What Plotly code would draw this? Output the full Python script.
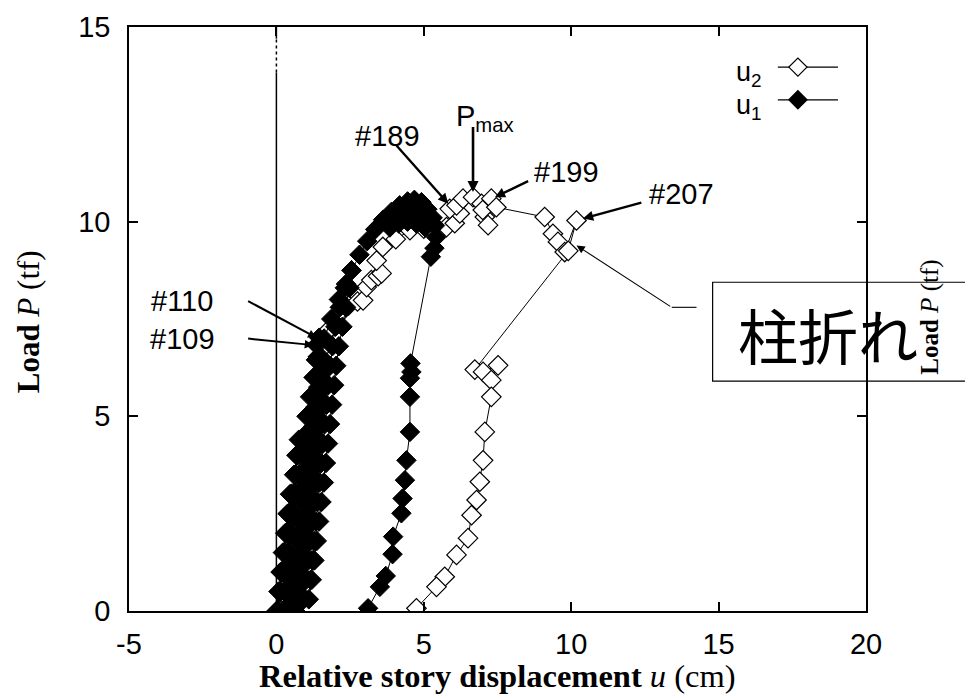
import plotly.graph_objects as go

# ---------------------------------------------------------------------------
# Load P (tf) versus relative story displacement u (cm)
# u1 : first-story drift  (filled diamonds)
# u2 : second-story drift (open diamonds)
# ---------------------------------------------------------------------------

# u1 -- small cycles, cycle to #109/#110, cycles to ~6 and ~8.7 tf,
#       final loading to the peak, drop after column failure and unloading
u1_x = (
    [0.00, 0.07, 0.14, 0.22, 0.30, 0.38, 0.46, 0.40, 0.33, 0.26, 0.19, 0.12, 0.05]
    + [0.12, 0.20, 0.28, 0.36, 0.44, 0.52, 0.60, 0.68, 0.76, 0.72, 0.66, 0.60, 0.53,
       0.46, 0.39, 0.32, 0.26, 0.20]
    + [0.28, 0.36, 0.44, 0.52, 0.60, 0.68, 0.76, 0.85, 0.94, 1.02, 1.14, 1.26, 1.34,
       1.36, 1.45, 1.44, 1.40, 1.35, 1.30, 1.24, 1.18, 1.12, 1.06, 0.99, 0.92, 0.85,
       0.78, 0.71, 0.64]
    + [0.55, 0.62, 0.70, 0.78, 0.86, 0.94, 1.02, 1.10, 1.18, 1.26, 1.34, 1.42, 1.50,
       1.62, 1.56, 1.50, 1.44, 1.38, 1.31, 1.24, 1.17, 1.10, 1.02, 0.94, 0.86]
    + [0.70, 0.77, 0.84, 0.91, 0.98, 1.05, 1.12, 1.19, 1.26, 1.33, 1.40, 1.47, 1.54,
       1.62, 1.86, 2.12, 2.36, 2.55, 2.48, 2.36, 2.24, 2.12, 2.03, 1.96, 1.89, 1.82,
       1.75, 1.68, 1.61, 1.53, 1.45, 1.37, 1.29, 1.20, 1.10]
    + [1.16, 1.22, 1.28, 1.34, 1.40, 1.46, 1.52, 1.58, 1.64, 1.70, 1.76, 1.82, 1.90,
       2.00, 2.15, 2.32, 2.55, 2.82, 3.08, 3.35, 3.62, 3.90, 4.18, 4.45, 4.68, 4.92,
       5.12, 5.30, 5.05, 4.75, 4.45, 4.15, 3.85, 4.15, 4.50, 4.85, 5.15, 5.38, 5.42,
       5.36, 5.24]
    + [4.55, 4.58, 4.53, 4.53, 4.53, 4.41, 4.36, 4.28, 4.24, 3.96, 3.94, 3.71, 3.51,
       3.11]
)
u1_p = (
    [0.00, 0.50, 1.00, 1.50, 2.00, 2.50, 3.00, 2.50, 2.00, 1.50, 1.00, 0.50, 0.00]
    + [0.50, 1.00, 1.50, 2.00, 2.50, 3.00, 3.50, 4.00, 4.40, 4.00, 3.50, 3.00, 2.50,
       2.00, 1.50, 1.00, 0.50, 0.00]
    + [0.50, 1.00, 1.50, 2.00, 2.50, 3.00, 3.50, 4.00, 4.50, 5.00, 5.50, 6.00, 6.45,
       6.83, 7.02, 6.50, 6.00, 5.50, 5.00, 4.50, 4.00, 3.50, 3.00, 2.50, 2.00, 1.50,
       1.00, 0.50, 0.00]
    + [0.25, 0.75, 1.25, 1.75, 2.25, 2.75, 3.25, 3.75, 4.25, 4.75, 5.25, 5.75, 6.10,
       5.75, 5.25, 4.75, 4.25, 3.75, 3.25, 2.75, 2.25, 1.75, 1.25, 0.75, 0.25]
    + [0.50, 1.00, 1.50, 2.00, 2.50, 3.00, 3.50, 4.00, 4.50, 5.00, 5.50, 6.00, 6.50,
       7.00, 7.50, 8.00, 8.40, 8.75, 8.30, 7.80, 7.30, 6.80, 6.30, 5.80, 5.30, 4.80,
       4.30, 3.80, 3.30, 2.80, 2.30, 1.80, 1.30, 0.80, 0.30]
    + [0.80, 1.30, 1.80, 2.30, 2.80, 3.30, 3.80, 4.30, 4.80, 5.30, 5.80, 6.30, 6.80,
       7.30, 7.80, 8.30, 8.75, 9.15, 9.50, 9.80, 10.05, 10.25, 10.42, 10.52, 10.56,
       10.50, 10.32, 10.10, 9.85, 9.95, 10.00, 9.95, 9.85, 10.15, 10.25, 10.30, 10.15,
       9.90, 9.60, 9.32, 9.10]
    + [6.36, 6.14, 5.98, 5.50, 4.60, 3.87, 3.36, 2.89, 2.51, 1.91, 1.46, 0.90, 0.62,
       0.07]
)

# u2 -- cycles inside the u1 band, final loading, peak region, column failure, drop
u2_x = (
    [0.04, 0.18, 0.34, 0.50, 0.40, 0.26, 0.12, 0.30, 0.46, 0.62, 0.70, 0.58, 0.44,
     0.30, 0.24, 0.44, 0.62, 0.80, 0.98, 1.16, 1.30, 1.41, 1.50, 1.38, 1.24, 1.10,
     0.96, 0.82, 0.70, 0.86, 1.02, 1.18, 1.34, 1.50, 1.64, 1.76]
    + [2.10, 2.45, 2.75, 2.94, 3.06, 3.22, 3.45, 3.57, 3.40, 3.61, 4.05, 4.53, 5.00,
       5.40, 5.77, 6.05, 6.22, 5.88, 6.11, 6.33, 6.67, 6.96, 7.07, 7.18, 7.00, 7.29,
       7.46, 9.10, 9.38, 9.55, 9.78, 10.18, 9.90]
    + [6.73, 7.01, 7.52, 7.29, 7.29, 7.07, 7.01, 6.90, 6.79, 6.62, 6.50, 6.11, 5.71,
       5.43, 4.75]
)
u2_p = (
    [0.00, 1.00, 2.00, 3.00, 2.00, 1.00, 0.00, 1.00, 2.00, 3.00, 4.00, 3.00, 2.00,
     1.00, 0.00, 1.00, 2.00, 3.00, 4.00, 5.00, 6.00, 6.53, 6.88, 6.00, 5.00, 4.00,
     3.00, 2.00, 1.00, 2.00, 3.00, 4.00, 5.00, 6.00, 6.80, 7.21]
    + [7.60, 7.85, 7.95, 7.98, 8.32, 8.50, 8.60, 8.67, 9.00, 9.35, 9.55, 9.78, 9.82,
       9.72, 9.86, 9.96, 10.21, 10.33, 10.42, 10.59, 10.63, 10.46, 10.12, 9.91, 10.30,
       10.59, 10.37, 10.12, 9.69, 9.48, 9.22, 10.03, 9.25]
    + [6.20, 6.14, 6.31, 5.93, 5.50, 4.60, 3.87, 3.32, 2.85, 2.46, 1.87, 1.44, 0.88,
       0.62, 0.07]
)

assert len(u1_x) == len(u1_p) and len(u2_x) == len(u2_p)

x_ticks = [-5, 0, 5, 10, 15, 20]
y_ticks = [0, 5, 10, 15]

# step-number callouts: (text, text x, text y, arrow tail x, tail y, tip x, tip y)
step_notes = [
    ("#110", -3.20, 7.95, -1.01, 7.98, 1.36, 7.02),
    ("#109", -3.20, 6.98, -1.01, 7.00, 1.25, 6.83),
    ("#189", 3.76, 12.21, 4.02, 12.00, 5.83, 10.46),
    ("#199", 9.85, 11.27, 8.59, 11.06, 7.41, 10.63),
    ("#207", 13.75, 10.70, 12.43, 10.50, 10.40, 10.08),
]
pmax_note = ("P<sub>max</sub>", 6.02, 12.66, 6.67, 12.47, 6.67, 10.76)
failure_note = "柱折れ"

SANS = "Liberation Sans, Arial, Helvetica, sans-serif"
SERIF = "Liberation Serif, Times New Roman, serif"
CJK = "Noto Sans CJK JP, sans-serif"

MARK = 15

fig = go.Figure()

fig.add_trace(go.Scatter(
    x=u2_x, y=u2_p, mode="lines+markers", name="u2",
    line=dict(color="black", width=1),
    marker=dict(symbol="diamond", size=MARK, color="white",
                line=dict(color="black", width=1.2)),
))
fig.add_trace(go.Scatter(
    x=u1_x, y=u1_p, mode="lines+markers", name="u1",
    line=dict(color="black", width=1),
    marker=dict(symbol="diamond", size=MARK, color="black",
                line=dict(color="black", width=1)),
))

# key (text on the left, sample on the right)
key_rows = [("u<sub>2</sub>", "white", 13.97), ("u<sub>1</sub>", "black", 13.13)]
for label, fill, ky in key_rows:
    fig.add_trace(go.Scatter(
        x=[17.01, 19.05], y=[ky, ky], mode="lines",
        line=dict(color="black", width=1.2), hoverinfo="skip",
    ))
    fig.add_trace(go.Scatter(
        x=[17.69], y=[ky], mode="markers", hoverinfo="skip",
        marker=dict(symbol="diamond", size=14, color=fill,
                    line=dict(color="black", width=1.2)),
    ))

annotations = []
for label, fill, ky in key_rows:
    annotations.append(dict(
        x=16.55, y=ky - 0.18, xref="x", yref="y", text=label, showarrow=False,
        xanchor="right", yanchor="middle",
        font=dict(family=SANS, size=27, color="black"),
    ))

for text, tx, ty, ax, ay, hx, hy in step_notes:
    annotations.append(dict(
        x=tx, y=ty, xref="x", yref="y", text=text, showarrow=False,
        font=dict(family=SANS, size=29, color="black"),
    ))
    thick = 2.0 if text in ("#109", "#110") else 2.4
    annotations.append(dict(
        x=hx, y=hy, ax=ax, ay=ay, xref="x", yref="y", axref="x", ayref="y",
        text="", showarrow=True, arrowhead=2, arrowsize=0.85,
        arrowwidth=thick, arrowcolor="black",
    ))

text, tx, ty, ax, ay, hx, hy = pmax_note
annotations.append(dict(
    x=tx, y=ty, xref="x", yref="y", text=text, showarrow=False,
    xanchor="left", yanchor="middle",
    font=dict(family=SANS, size=29, color="black"),
))
annotations.append(dict(
    x=hx, y=hy, ax=ax, ay=ay, xref="x", yref="y", axref="x", ayref="y",
    text="", showarrow=True, arrowhead=2, arrowsize=0.85,
    arrowwidth=2.6, arrowcolor="black",
))

# column-failure callout
annotations.append(dict(
    x=10.18, y=9.39, ax=13.41, ay=7.80, xref="x", yref="y", axref="x", ayref="y",
    text="", showarrow=True, arrowhead=2, arrowsize=1.5,
    arrowwidth=1.1, arrowcolor="black",
))
annotations.append(dict(
    x=0.9478, y=0.4756, xref="paper", yref="paper", text=failure_note,
    showarrow=False, xanchor="center", yanchor="middle",
    font=dict(family=CJK, size=60, color="black"),
))

# axis titles
annotations.append(dict(
    x=0.5, y=-0.112, xref="paper", yref="paper",
    text="<b>Relative story displacement</b> <i>u</i> (cm)", showarrow=False,
    xanchor="center", yanchor="middle",
    font=dict(family=SERIF, size=32.5, color="black"),
))
annotations.append(dict(
    x=-0.137, y=0.4944, xref="paper", yref="paper",
    text="<b>Load</b> <i>P</i> (tf)", showarrow=False, textangle=-90,
    xanchor="center", yanchor="middle",
    font=dict(family=SERIF, size=31, color="black"),
))
# y-axis title of the neighbouring panel
annotations.append(dict(
    x=1.0875, y=0.503, xref="paper", yref="paper",
    text="<b>Load</b> <i>P</i> (tf)", showarrow=False, textangle=-90,
    xanchor="center", yanchor="middle",
    font=dict(family=SERIF, size=25, color="black"),
))

shapes = [
    # vertical line at u = 0
    dict(type="line", xref="x", yref="y", x0=0, x1=0, y0=0, y1=13.83,
         line=dict(color="black", width=1.5), layer="below"),
    dict(type="line", xref="x", yref="y", x0=0, x1=0, y0=13.83, y1=14.70,
         line=dict(color="black", width=1.5, dash="dot"), layer="below"),
    dict(type="line", xref="x", yref="y", x0=0, x1=0, y0=14.70, y1=15,
         line=dict(color="black", width=1.5), layer="below"),
    # callout leader and frame
    dict(type="line", xref="x", yref="y", x0=13.41, x1=14.25, y0=7.80, y1=7.80,
         line=dict(color="black", width=1.1)),
    dict(type="rect", xref="paper", yref="paper", x0=0.7919, x1=1.16,
         y0=0.3935, y1=0.5629, line=dict(color="black", width=1.2),
         fillcolor="rgba(0,0,0,0)"),
]

axis_common = dict(
    showgrid=False, zeroline=False, showline=True, linecolor="black",
    linewidth=1.6, mirror="ticks", ticks="inside", ticklen=9, tickwidth=1.5,
    tickcolor="black", tickfont=dict(family=SANS, size=29, color="black"),
)

fig.update_xaxes(range=[-5, 20], tickmode="array", tickvals=x_ticks,
                 ticktext=[str(v) for v in x_ticks], ticklabelstandoff=6,
                 **axis_common)
fig.update_yaxes(range=[0, 15], tickmode="array", tickvals=y_ticks,
                 ticktext=[str(v) for v in y_ticks], ticklabelstandoff=11,
                 **axis_common)

fig.update_layout(
    width=965, height=695,
    margin=dict(l=129, r=98.5, t=26.5, b=84, pad=0),
    plot_bgcolor="white", paper_bgcolor="white",
    showlegend=False,
    annotations=annotations,
    shapes=shapes,
)

fig.write_html("out.html")
